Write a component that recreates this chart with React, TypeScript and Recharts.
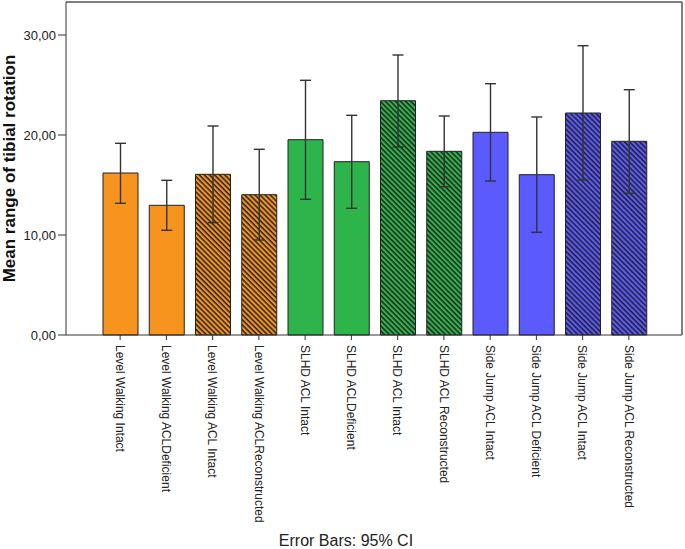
import { BarChart, Bar, XAxis, YAxis, Cell, ErrorBar } from 'recharts';

const categories = [
  'Level Walking Intact',
  'Level Walking ACLDeficient',
  'Level Walking ACL Intact',
  'Level Walking ACLReconstructed',
  'SLHD ACL Intact',
  'SLHD ACLDeficient',
  'SLHD ACL Intact',
  'SLHD ACL Reconstructed',
  'Side Jump ACL Intact',
  'Side Jump ACL Deficient',
  'Side Jump ACL Intact',
  'Side Jump ACL Reconstructed',
];
const means = [16.2, 12.97, 16.07, 14.03, 19.53, 17.33, 23.43, 18.37, 20.27, 16.03, 22.2, 19.37];
const ciLow = [13.17, 10.47, 11.23, 9.5, 13.57, 12.67, 18.8, 14.83, 15.4, 10.27, 15.5, 14.17];
const ciHigh = [19.17, 15.47, 20.9, 18.57, 25.47, 21.97, 28.0, 21.9, 25.13, 21.8, 28.93, 24.53];
const groups = ['orange', 'orange', 'orange', 'orange', 'green', 'green', 'green', 'green', 'blue', 'blue', 'blue', 'blue'];
const hatched = [false, false, true, true, false, false, true, true, false, false, true, true];
const yTicks = [0, 10, 20, 30];

const colors: Record<string, string> = {
  orange: '#F7941E',
  green: '#2DB44A',
  blue: '#5A5AFF',
};

const rows = categories.map((name, i) => ({
  id: i,
  name,
  mean: means[i],
  ci: [means[i] - ciLow[i], ciHigh[i] - means[i]],
}));

const font = '"Liberation Sans", Arial, sans-serif';

function CategoryTick(props: any) {
  const { x, y, payload } = props;
  return (
    <text
      transform={`translate(${x},${y + 3}) rotate(90)`}
      textAnchor="start"
      dy="0.35em"
      fontSize={12}
      fontFamily={font}
      fill="#222"
    >
      {categories[payload.value]}
    </text>
  );
}

export default function App() {
  return (
    <div style={{ position: 'absolute', left: 0, top: 0, width: 685, height: 549, background: '#fff' }}>
      <BarChart
        width={685}
        height={549}
        data={rows}
        margin={{ top: 1, right: 2, left: 0, bottom: 0 }}
      >
        <defs>
          {Object.keys(colors).map((g) => (
            <pattern
              key={g}
              id={`hatch-${g}`}
              patternUnits="userSpaceOnUse"
              width={3.6}
              height={3.6}
              patternTransform="rotate(45)"
            >
              <rect width={3.6} height={3.6} fill={colors[g]} />
              <rect width={3.6} height={1.5} fill="#222" />
            </pattern>
          ))}
        </defs>
        <XAxis
          dataKey="id"
          xAxisId="main"
          height={214}
          interval={0}
          padding={{ left: 31, right: 30 }}
          tick={<CategoryTick />}
          tickSize={5}
          tickLine={{ stroke: '#333' }}
          axisLine={{ stroke: '#333' }}
        />
        <XAxis
          dataKey="id"
          xAxisId="top"
          orientation="top"
          height={1}
          tick={false}
          tickLine={false}
          axisLine={{ stroke: '#555', strokeWidth: 1.5 }}
        />
        <YAxis
          yAxisId="main"
          width={66}
          domain={[0, 33.3]}
          ticks={yTicks}
          tickSize={8}
          tickFormatter={(v: number) => v.toFixed(2).replace('.', ',')}
          tick={{ fontSize: 13, fontFamily: font, fill: '#222' }}
          tickLine={{ stroke: '#333' }}
          axisLine={{ stroke: '#333' }}
          label={{
            value: 'Mean range of tibial rotation',
            angle: -90,
            position: 'insideLeft',
            dx: 4,
            dy: 0,
            style: { textAnchor: 'middle', fontSize: 17, fontWeight: 'bold', fontFamily: font, fill: '#111' },
          }}
        />
        <YAxis
          yAxisId="right"
          orientation="right"
          width={1}
          domain={[0, 33.3]}
          tick={false}
          tickLine={false}
          axisLine={{ stroke: '#555', strokeWidth: 1.5 }}
        />
        <Bar
          dataKey="mean"
          xAxisId="main"
          yAxisId="main"
          barSize={35}
          stroke="#222"
          strokeWidth={1}
          isAnimationActive={false}
        >
          {rows.map((r, i) => (
            <Cell key={r.id} fill={hatched[i] ? `url(#hatch-${groups[i]})` : colors[groups[i]]} />
          ))}
          <ErrorBar dataKey="ci" width={5.5} stroke="#333" strokeWidth={1.4} isAnimationActive={false} />
        </Bar>
        <text x={346} y={546} textAnchor="middle" fontSize={16} fontFamily={font} fill="#222">
          Error Bars: 95% CI
        </text>
      </BarChart>
    </div>
  );
}
